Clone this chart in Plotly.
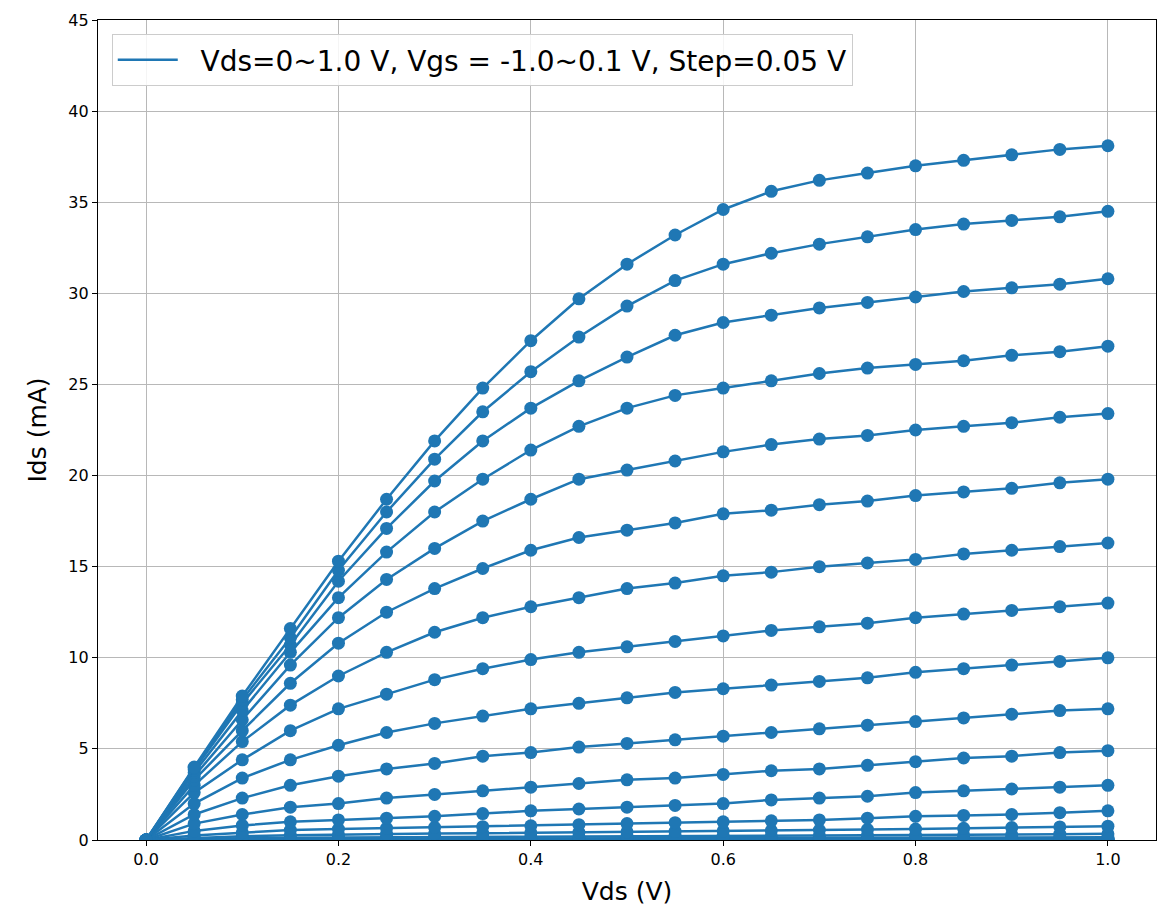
import plotly.graph_objects as go

vds = [0.0, 0.05, 0.1, 0.15, 0.2, 0.25, 0.3, 0.35, 0.4, 0.45, 0.5,
       0.55, 0.6, 0.65, 0.7, 0.75, 0.8, 0.85, 0.9, 0.95, 1.0]

ids_c01 = [0, 4.0, 7.9, 11.6, 15.3, 18.7, 21.9, 24.8, 27.4, 29.7, 31.6, 33.2, 34.6, 35.6, 36.2, 36.6, 37.0, 37.3, 37.6, 37.9, 38.1]
ids_c02 = [0, 3.95, 7.7, 11.1, 14.8, 18.0, 20.9, 23.5, 25.7, 27.6, 29.3, 30.7, 31.6, 32.2, 32.7, 33.1, 33.5, 33.8, 34.0, 34.2, 34.5]
ids_c03 = [0, 3.85, 7.5, 10.7, 14.2, 17.1, 19.7, 21.9, 23.7, 25.2, 26.5, 27.7, 28.4, 28.8, 29.2, 29.5, 29.8, 30.1, 30.3, 30.5, 30.8]
ids_c04 = [0, 3.7, 7.1, 10.3, 13.3, 15.8, 18.0, 19.8, 21.4, 22.7, 23.7, 24.4, 24.8, 25.2, 25.6, 25.9, 26.1, 26.3, 26.6, 26.8, 27.1]
ids_c05 = [0, 3.5, 6.6, 9.6, 12.2, 14.3, 16.0, 17.5, 18.7, 19.8, 20.3, 20.8, 21.3, 21.7, 22.0, 22.2, 22.5, 22.7, 22.9, 23.2, 23.4]
ids_c06 = [0, 3.3, 6.0, 8.6, 10.8, 12.5, 13.8, 14.9, 15.9, 16.6, 17.0, 17.4, 17.9, 18.1, 18.4, 18.6, 18.9, 19.1, 19.3, 19.6, 19.8]
ids_c07 = [0, 3.0, 5.4, 7.4, 9.0, 10.3, 11.4, 12.2, 12.8, 13.3, 13.8, 14.1, 14.5, 14.7, 15.0, 15.2, 15.4, 15.7, 15.9, 16.1, 16.3]
ids_c08 = [0, 2.6, 4.4, 6.0, 7.2, 8.0, 8.8, 9.4, 9.9, 10.3, 10.6, 10.9, 11.2, 11.5, 11.7, 11.9, 12.2, 12.4, 12.6, 12.8, 13.0]
ids_c09 = [0, 2.0, 3.4, 4.4, 5.2, 5.9, 6.4, 6.8, 7.2, 7.5, 7.8, 8.1, 8.3, 8.5, 8.7, 8.9, 9.2, 9.4, 9.6, 9.8, 10.0]
ids_c10 = [0, 1.4, 2.3, 3.0, 3.5, 3.9, 4.2, 4.6, 4.8, 5.1, 5.3, 5.5, 5.7, 5.9, 6.1, 6.3, 6.5, 6.7, 6.9, 7.1, 7.2]
ids_c11 = [0, 0.9, 1.4, 1.8, 2.0, 2.3, 2.5, 2.7, 2.9, 3.1, 3.3, 3.4, 3.6, 3.8, 3.9, 4.1, 4.3, 4.5, 4.6, 4.8, 4.9]
ids_c12 = [0, 0.5, 0.8, 1.0, 1.1, 1.2, 1.3, 1.45, 1.6, 1.7, 1.8, 1.9, 2.0, 2.2, 2.3, 2.4, 2.6, 2.7, 2.8, 2.9, 3.0]
ids_c13 = [0, 0.25, 0.4, 0.55, 0.6, 0.65, 0.7, 0.73, 0.78, 0.84, 0.9, 0.95, 1.0, 1.05, 1.1, 1.2, 1.3, 1.35, 1.4, 1.5, 1.6]
ids_c14 = [0, 0.12, 0.2, 0.26, 0.3, 0.33, 0.35, 0.37, 0.4, 0.42, 0.45, 0.47, 0.5, 0.52, 0.55, 0.58, 0.6, 0.64, 0.68, 0.72, 0.76]
ids_c15 = [0, 0.06, 0.1, 0.12, 0.14, 0.15, 0.16, 0.17, 0.18, 0.19, 0.2, 0.21, 0.22, 0.23, 0.24, 0.25, 0.26, 0.28, 0.3, 0.32, 0.34]
ids_c16 = [0, 0.03, 0.05, 0.06, 0.07, 0.07, 0.08, 0.08, 0.09, 0.09, 0.1, 0.1, 0.11, 0.11, 0.12, 0.12, 0.13, 0.13, 0.14, 0.14, 0.15]
ids_c17 = [0, 0.01, 0.02, 0.03, 0.03, 0.03, 0.04, 0.04, 0.04, 0.04, 0.05, 0.05, 0.05, 0.05, 0.05, 0.06, 0.06, 0.06, 0.06, 0.07, 0.07]
ids_c18 = [0, 0.01, 0.01, 0.01, 0.02, 0.02, 0.02, 0.02, 0.02, 0.02, 0.02, 0.02, 0.02, 0.03, 0.03, 0.03, 0.03, 0.03, 0.03, 0.03, 0.03]
ids_c19 = [0, 0.0, 0.01, 0.01, 0.01, 0.01, 0.01, 0.01, 0.01, 0.01, 0.01, 0.01, 0.01, 0.01, 0.01, 0.01, 0.01, 0.01, 0.02, 0.02, 0.02]
ids_c20 = [0, 0.0, 0.0, 0.0, 0.01, 0.01, 0.01, 0.01, 0.01, 0.01, 0.01, 0.01, 0.01, 0.01, 0.01, 0.01, 0.01, 0.01, 0.01, 0.01, 0.01]
ids_c21 = [0, 0.0, 0.0, 0.0, 0.0, 0.0, 0.0, 0.0, 0.0, 0.0, 0.0, 0.0, 0.01, 0.01, 0.01, 0.01, 0.01, 0.01, 0.01, 0.01, 0.01]
ids_c22 = [0, 0.0, 0.0, 0.0, 0.0, 0.0, 0.0, 0.0, 0.0, 0.0, 0.0, 0.0, 0.0, 0.0, 0.0, 0.0, 0.0, 0.0, 0.0, 0.0, 0.0]
ids_c23 = [0, 0.0, 0.0, 0.0, 0.0, 0.0, 0.0, 0.0, 0.0, 0.0, 0.0, 0.0, 0.0, 0.0, 0.0, 0.0, 0.0, 0.0, 0.0, 0.0, 0.0]

curves = [ids_c23, ids_c22, ids_c21, ids_c20, ids_c19, ids_c18, ids_c17, ids_c16,
          ids_c15, ids_c14, ids_c13, ids_c12, ids_c11, ids_c10, ids_c09, ids_c08,
          ids_c07, ids_c06, ids_c05, ids_c04, ids_c03, ids_c02, ids_c01]

legend_label = "Vds=0~1.0 V, Vgs = -1.0~0.1 V, Step=0.05 V"
x_ticks = [0.0, 0.2, 0.4, 0.6, 0.8, 1.0]
y_ticks = [0, 5, 10, 15, 20, 25, 30, 35, 40, 45]

BLUE = "#1f77b4"
FONT = "DejaVu Sans"

fig = go.Figure()
for ys in curves:
    fig.add_trace(go.Scatter(
        x=vds, y=ys, mode="lines+markers",
        line=dict(color=BLUE, width=2.5),
        marker=dict(color=BLUE, size=13),
        showlegend=False, hoverinfo="skip"))

# legend entry (line only, as in the original)
fig.add_trace(go.Scatter(x=[None], y=[None], mode="lines",
                         line=dict(color=BLUE, width=2.5),
                         name="\u00a0\u00a0" + legend_label, showlegend=True))

axis_common = dict(
    showline=True, linecolor="black", linewidth=1.3, mirror=True,
    ticks="outside", ticklen=5, tickwidth=1.3, tickcolor="black",
    showgrid=True, gridcolor="#b8b8b8", gridwidth=1.3,
    zeroline=False, tickfont=dict(family=FONT, size=16, color="black"),
)

fig.update_layout(
    width=1168, height=912,
    margin=dict(l=98, r=11, t=20, b=64),
    paper_bgcolor="white", plot_bgcolor="white",
    font=dict(family=FONT, color="black"),
    xaxis=dict(range=[-0.05, 1.05], tickvals=x_ticks, tickformat=".1f",
               title=dict(text="Vds (V)", font=dict(family=FONT, size=25), standoff=14),
               **axis_common),
    yaxis=dict(range=[0, 45], tickvals=y_ticks,
               title=dict(text="Ids (mA)", font=dict(family=FONT, size=25), standoff=14),
               **axis_common),
    legend=dict(x=0.013, y=0.983, xanchor="left", yanchor="top",
                bgcolor="rgba(255,255,255,0.85)", bordercolor="#cccccc", borderwidth=1,
                font=dict(family=FONT, size=28, color="black"),
                itemwidth=60),
)

fig.write_html("out.html")
